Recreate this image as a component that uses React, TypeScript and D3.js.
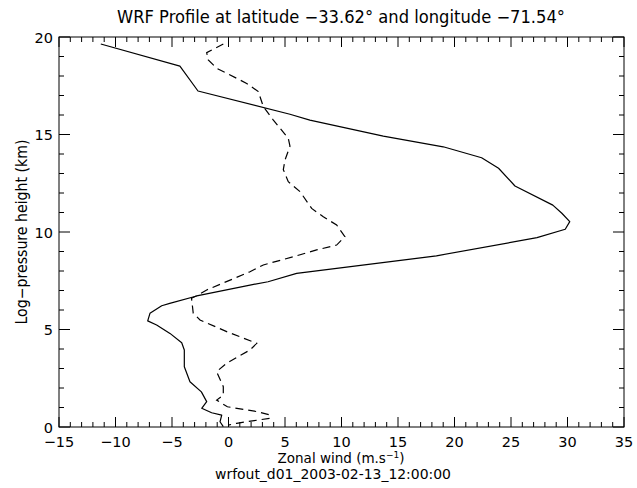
import React from 'react';
import * as d3 from 'd3';

// Solid line: zonal wind (m/s) vs log-pressure height (km)
const solidWind = [-11.3, -4.3, -2.7, 5.44, 7.2, 13.7, 19.0, 22.4, 23.9, 25.35, 28.7, 29.5, 30.2, 29.8, 27.3, 18.4, 6.03, 3.5, 1.9, -2.81, -5.2, -5.91, -6.95, -7.15, -6.36, -5.18, -4.14, -3.91, -3.91, -3.41, -2.4, -1.93, -2.37, -1.49, -0.6, -0.75, -0.46];
const solidHeight = [19.64, 18.51, 17.23, 16.04, 15.74, 14.92, 14.37, 13.81, 13.27, 12.36, 11.38, 10.96, 10.53, 10.14, 9.71, 8.78, 7.88, 7.45, 7.28, 6.72, 6.34, 6.22, 5.83, 5.44, 5.23, 4.8, 4.32, 3.95, 3.09, 2.32, 1.8, 1.3, 0.96, 0.73, 0.61, 0.27, 0.02];

// Dashed line
const dashedWind = [-0.46, -1.93, -1.79, -1.05, 1.61, 2.64, 3.08, 3.97, 5.29, 5.44, 5.0, 4.85, 5.29, 6.33, 7.36, 8.39, 9.57, 10.3, 9.57, 7.8, 5.73, 3.08, 1.9, -1.93, -2.67, -3.27, -3.12, -2.52, -0.16, 2.5, 1.9, -0.16, -1.05, -0.46, -0.46, -1.05, -0.1, 2.5, 3.67, 3.67, 0.72, -0.02];
const dashedHeight = [19.64, 19.2, 18.82, 18.4, 17.62, 17.2, 16.43, 15.74, 14.8, 14.4, 13.69, 13.2, 12.58, 12.07, 11.21, 10.78, 10.36, 9.76, 9.33, 9.08, 8.73, 8.31, 7.96, 7.03, 6.77, 6.6, 5.83, 5.49, 4.89, 4.29, 3.95, 3.27, 2.84, 2.07, 1.64, 1.38, 1.04, 0.79, 0.62, 0.45, 0.19, 0.1];

const xTickValues = [-15, -10, -5, 0, 5, 10, 15, 20, 25, 30, 35];
const yTickValues = [0, 5, 10, 15, 20];

const titleText = 'WRF Profile at latitude \u221233.62\u00b0 and longitude  \u221271.54\u00b0';
const xTitle = 'Zonal wind (m.s';
const subTitle = 'wrfout_d01_2003-02-13_12:00:00';
const yTitle = 'Log\u2212pressure height (km)';

const fmt = (v: number) => (v < 0 ? '\u2212' + Math.abs(v) : String(v));

export default function App() {
  const W = 637, H = 488;
  const left = 59, right = 624, top = 37, bottom = 427;
  const x = d3.scaleLinear().domain([-15, 35]).range([left, right]);
  const y = d3.scaleLinear().domain([0, 20]).range([bottom, top]);
  const line = d3.line<[number, number]>().x(d => x(d[0])).y(d => y(d[1]));
  const solid: [number, number][] = solidWind.map((u, i) => [u, solidHeight[i]]);
  const dashed: [number, number][] = dashedWind.map((u, i) => [u, dashedHeight[i]]);
  const xMinor = d3.range(-15, 36, 1).filter(v => v % 5 !== 0);
  const yMinor = d3.range(0, 21, 1).filter(v => v % 5 !== 0);
  const font = "'DejaVu Sans', sans-serif";
  const majL = 10, minL = 5;
  return (
    <svg width={W} height={H} style={{ position: 'absolute', left: 0, top: 0, background: '#fff' }}
      fontFamily={font} fill="#000">
      <rect x={0} y={0} width={W} height={H} fill="#fff" />
      <g stroke="#000" strokeWidth={1} fill="none">
        <rect x={left} y={top} width={right - left} height={bottom - top} />
        {xTickValues.map(v => (
          <g key={'xm' + v}>
            <line x1={x(v)} x2={x(v)} y1={bottom} y2={bottom - majL} />
            <line x1={x(v)} x2={x(v)} y1={top} y2={top + majL} />
          </g>
        ))}
        {xMinor.map(v => (
          <g key={'xn' + v}>
            <line x1={x(v)} x2={x(v)} y1={bottom} y2={bottom - minL} />
            <line x1={x(v)} x2={x(v)} y1={top} y2={top + minL} />
          </g>
        ))}
        {yTickValues.map(v => (
          <g key={'ym' + v}>
            <line x1={left} x2={left + majL + 1} y1={y(v)} y2={y(v)} />
            <line x1={right} x2={right - majL - 1} y1={y(v)} y2={y(v)} />
          </g>
        ))}
        {yMinor.map(v => (
          <g key={'yn' + v}>
            <line x1={left} x2={left + minL} y1={y(v)} y2={y(v)} />
            <line x1={right} x2={right - minL} y1={y(v)} y2={y(v)} />
          </g>
        ))}
      </g>
      <path d={line(solid) || ''} fill="none" stroke="#000" strokeWidth={1.2} strokeLinejoin="round" />
      <path d={line(dashed) || ''} fill="none" stroke="#000" strokeWidth={1.2} strokeDasharray="8,5" />
      {xTickValues.map(v => (
        <text key={'xl' + v} x={x(v)} y={447} fontSize={14.5} textAnchor="middle">{fmt(v)}</text>
      ))}
      {yTickValues.map(v => (
        <text key={'yl' + v} x={53} y={y(v) + 5.5} fontSize={14.5} textAnchor="end">{fmt(v)}</text>
      ))}
      <text x={341} y={23} fontSize={17} textAnchor="middle" textLength={448} lengthAdjust="spacingAndGlyphs">{titleText}</text>
      <text x={341} y={463} fontSize={13.5} textAnchor="middle">
        {xTitle}<tspan fontSize={9} dy={-5}>{'\u22121'}</tspan><tspan dy={5}>)</tspan>
      </text>
      <text x={333} y={479} fontSize={14} textAnchor="middle" textLength={236} lengthAdjust="spacingAndGlyphs">{subTitle}</text>
      <text transform={`translate(27,${(top + bottom) / 2}) rotate(-90)`} fontSize={15} textAnchor="middle" textLength={185} lengthAdjust="spacingAndGlyphs">{yTitle}</text>
    </svg>
  );
}
